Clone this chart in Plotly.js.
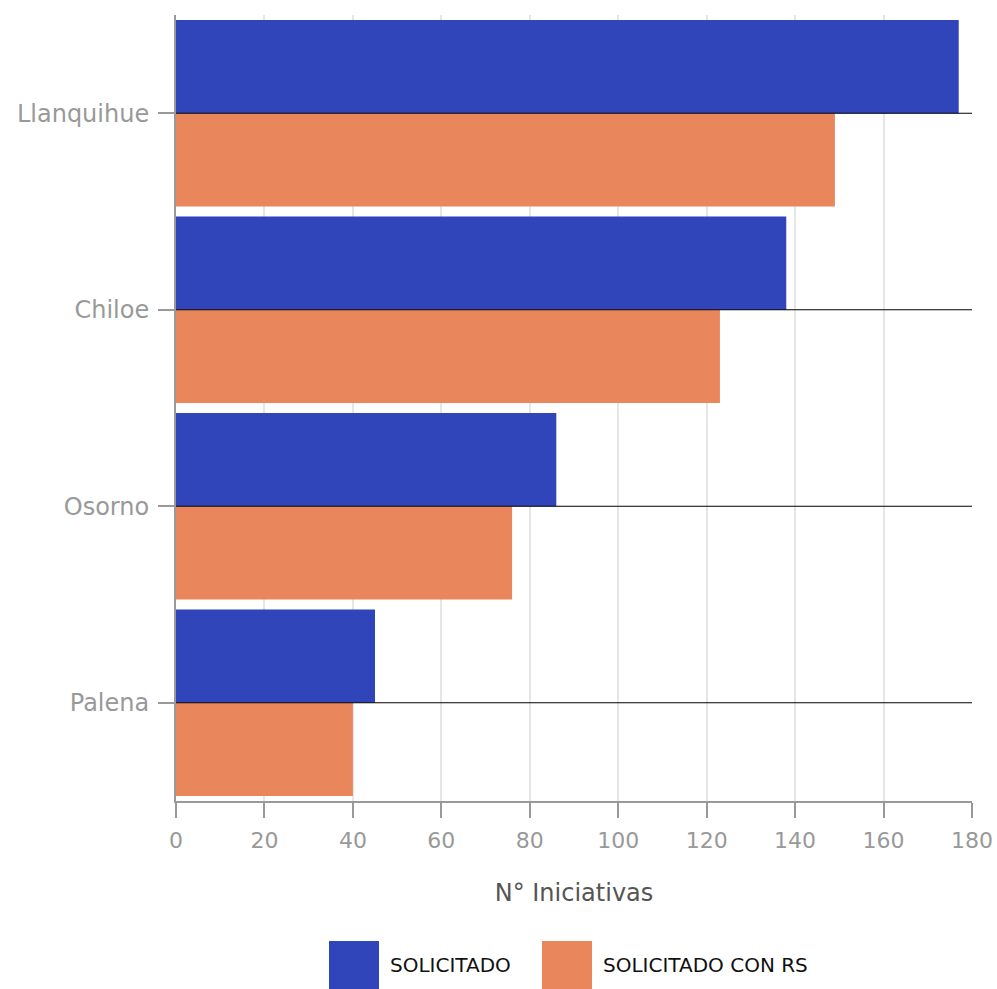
<!DOCTYPE html>
<html>
<head>
<meta charset="utf-8">
<script src="https://cdn.plot.ly/plotly-3.0.1.min.js"></script>
<style>html,body{margin:0;padding:0;background:#fff}#chart{width:997px;height:989px}</style>
</head>
<body>
<div id="chart"></div>
<script>
const categories = ["Llanquihue", "Chiloe", "Osorno", "Palena"];
const solicitado = [177, 138, 86, 45];
const solicitadoConRS = [149, 123, 76, 40];
const seriesNames = ["SOLICITADO", "SOLICITADO CON RS"];
const xTicks = [0, 20, 40, 60, 80, 100, 120, 140, 160, 180];
const colors = ["#2f45b9", "#e9865c"];

const traces = [
  {type: "bar", orientation: "h", name: seriesNames[0], y: categories, x: solicitado,
   marker: {color: colors[0]}, hoverinfo: "x"},
  {type: "bar", orientation: "h", name: seriesNames[1], y: categories, x: solicitadoConRS,
   marker: {color: colors[1]}, hoverinfo: "x"}
];

const shapes = categories.map(c => ({
  type: "line", xref: "paper", yref: "y", x0: 0, x1: 1, y0: c, y1: c,
  line: {color: "#000", width: 1}, layer: "above"
}));

// custom legend
const legendItems = [
  {x: 329, label: seriesNames[0], color: colors[0]},
  {x: 542, label: seriesNames[1], color: colors[1]}
];
const W = 997, H = 989, ml = 176, mr = 25, mt = 15, mb = 188;
const pw = W - ml - mr, ph = H - mt - mb;
const px = x => (x - ml) / pw;
const py = y => (H - mb - y) / ph;
legendItems.forEach(it => {
  shapes.push({type: "rect", xref: "paper", yref: "paper",
    x0: px(it.x), x1: px(it.x + 50), y0: py(941), y1: py(989),
    fillcolor: it.color, line: {width: 0}});
});
const annotations = legendItems.map(it => ({
  xref: "paper", yref: "paper", x: px(it.x + 59), y: py(965),
  xanchor: "left", yanchor: "middle", showarrow: false, text: it.label,
  font: {family: "DejaVu Sans", size: 20, color: "#111"}
}));

const layout = {
  width: W, height: H,
  margin: {l: ml, r: mr, t: mt, b: mb, pad: 0},
  paper_bgcolor: "#fff", plot_bgcolor: "#fff",
  barmode: "group", bargap: 0.05, bargroupgap: 0,
  showlegend: false,
  font: {family: "DejaVu Sans", size: 22, color: "#999"},
  xaxis: {
    range: [0, 180], tickvals: xTicks, ticktext: xTicks.map(String),
    showgrid: true, gridcolor: "#e6e6e6", gridwidth: 2,
    showline: true, linecolor: "#999", linewidth: 2,
    ticks: "outside", ticklen: 15, tickwidth: 2, tickcolor: "#999",
    tickfont: {family: "DejaVu Sans", size: 22, color: "#999"},
    ticklabelstandoff: 4,
    zeroline: false,
    title: {text: "N° Iniciativas", font: {family: "DejaVu Sans", size: 24, color: "#555"}, standoff: 32}
  },
  yaxis: {
    type: "category", categoryorder: "array", categoryarray: categories,
    autorange: "reversed",
    showgrid: false,
    showline: true, linecolor: "#999", linewidth: 2,
    ticks: "outside", ticklen: 16, tickwidth: 2, tickcolor: "#999",
    tickfont: {family: "DejaVu Sans", size: 24, color: "#999"},
    ticklabelstandoff: 4
  },
  shapes: shapes,
  annotations: annotations
};

Plotly.newPlot("chart", traces, layout, {displayModeBar: false, staticPlot: true});
</script>
</body>
</html>
